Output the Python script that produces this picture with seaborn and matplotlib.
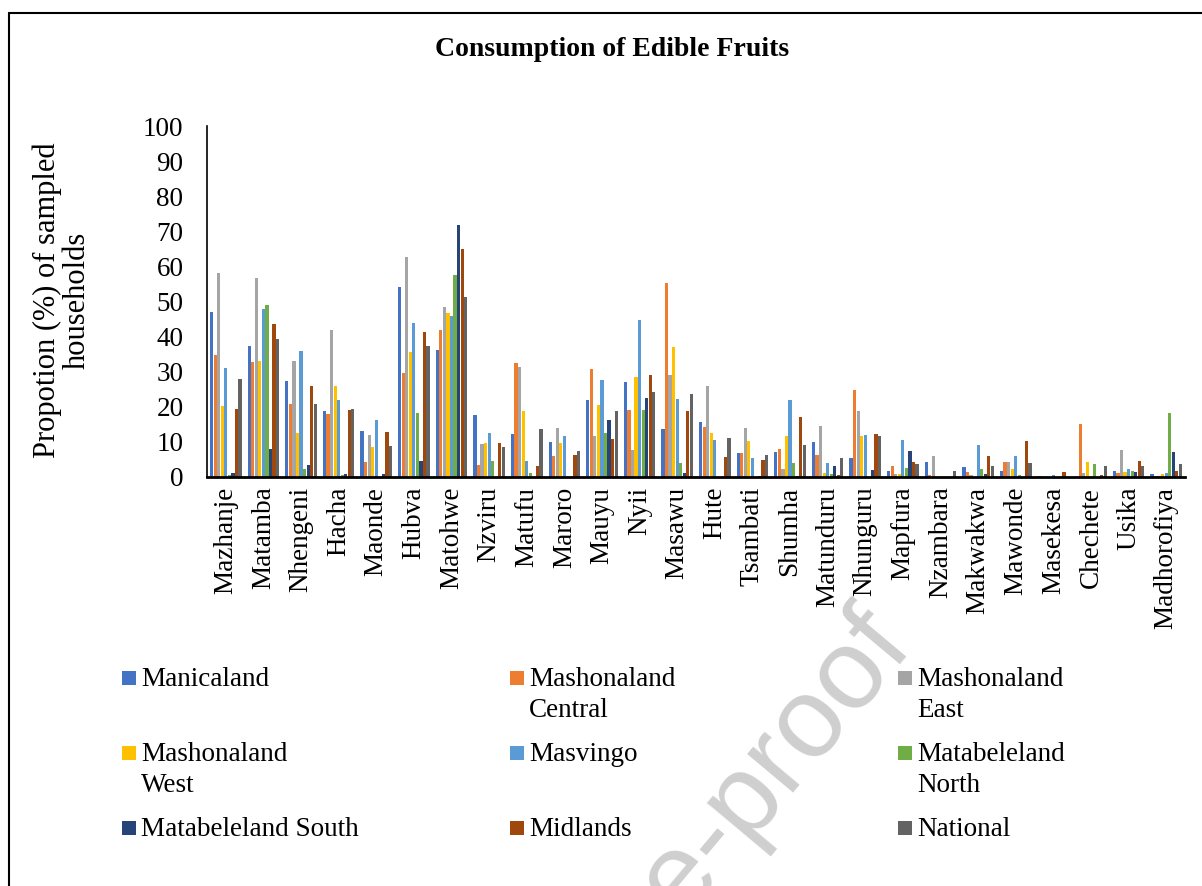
import matplotlib
matplotlib.use("Agg")
import matplotlib.pyplot as plt
from matplotlib.lines import Line2D
from matplotlib.patches import Rectangle
import pandas as pd
import seaborn as sns

sns.set_theme(style="white")
plt.rcParams['font.family'] = ['Liberation Serif', 'DejaVu Serif']
plt.rcParams['text.color'] = 'black'
plt.rcParams['xtick.color'] = 'black'
plt.rcParams['ytick.color'] = 'black'

fruits = ['Mazhanje', 'Matamba', 'Nhengeni', 'Hacha', 'Maonde', 'Hubva', 'Matohwe',
          'Nzviru', 'Matufu', 'Maroro', 'Mauyu', 'Nyii', 'Masawu', 'Hute', 'Tsambati',
          'Shumha', 'Matunduru', 'Nhunguru', 'Mapfura', 'Nzambara', 'Makwakwa',
          'Mawonde', 'Masekesa', 'Chechete', 'Usika', 'Madhorofiya']

manicaland = [46.9, 37.4, 27.3, 18.8, 13.2, 54.1, 36.1, 17.6, 12.2, 10.0, 22.0, 27.2, 13.6,
              15.6, 6.7, 7.2, 10.1, 5.5, 1.8, 4.4, 2.8, 1.6, 0.3, 0.0, 1.6, 0.8]
mash_central = [34.8, 32.7, 20.9, 17.9, 4.2, 29.6, 41.8, 3.4, 32.5, 5.9, 30.9, 19.0, 55.2,
                14.2, 6.9, 8.0, 6.2, 24.7, 3.0, 0.6, 1.3, 4.2, 0.0, 15.0, 1.1, 0.3]
mash_east = [58.2, 56.6, 33.0, 42.0, 11.9, 62.7, 48.3, 9.3, 31.2, 13.9, 11.7, 7.6, 29.0,
             26.0, 14.1, 2.3, 14.4, 18.9, 0.8, 6.0, 0.7, 4.2, 0.0, 1.1, 7.6, 0.4]
mash_west = [20.2, 33.0, 12.6, 25.8, 8.5, 35.5, 46.7, 9.6, 18.7, 9.6, 20.4, 28.5, 37.1,
             12.5, 10.2, 11.7, 1.0, 11.7, 0.8, 0.0, 0.0, 2.2, 0.0, 4.2, 1.4, 0.8]
masvingo = [31.1, 48.0, 36.0, 21.8, 16.1, 43.8, 46.0, 12.4, 4.7, 11.8, 27.5, 44.6, 22.1,
            10.5, 5.5, 22.0, 4.1, 11.9, 10.5, 0.0, 9.0, 6.0, 0.5, 0.0, 2.2, 1.2]
mat_north = [0.5, 48.9, 2.2, 0.6, 0.0, 18.1, 57.5, 4.7, 1.0, 0.0, 12.6, 19.0, 4.1,
             0.0, 0.0, 4.0, 0.8, 0.0, 2.6, 0.0, 2.2, 0.6, 0.0, 3.7, 1.7, 18.3]
mat_south = [1.0, 7.9, 3.3, 0.8, 0.8, 4.7, 71.9, 0.0, 0.0, 0.0, 16.1, 22.5, 1.0,
             0.0, 0.3, 0.3, 3.1, 1.9, 7.5, 0.0, 0.8, 0.0, 0.0, 0.0, 1.3, 7.1]
midlands = [19.3, 43.5, 25.8, 19.0, 12.8, 41.2, 64.9, 9.6, 3.1, 6.4, 10.7, 29.1, 18.8,
            5.6, 4.9, 17.0, 0.6, 12.2, 4.3, 0.0, 5.9, 10.2, 1.4, 0.7, 4.7, 1.7]
national = [28.0, 39.4, 20.9, 19.3, 8.7, 37.4, 51.4, 8.5, 13.8, 7.5, 18.9, 24.1, 23.7,
            11.2, 6.4, 9.0, 5.3, 11.7, 3.7, 1.6, 3.0, 4.0, 0.0, 3.2, 3.0, 3.8]

regions = ['Manicaland', 'Mashonaland Central', 'Mashonaland East', 'Mashonaland West',
           'Masvingo', 'Matabeleland North', 'Matabeleland South', 'Midlands', 'National']
legend_labels = ['Manicaland', 'Mashonaland\nCentral', 'Mashonaland\nEast',
                 'Mashonaland\nWest', 'Masvingo', 'Matabeleland\nNorth',
                 'Matabeleland South', 'Midlands', 'National']
colors = ['#4472C4', '#ED7D31', '#A5A5A5', '#FFC000', '#5B9BD5',
          '#70AD47', '#264478', '#9E480E', '#636363']

df = pd.DataFrame({'fruit': fruits})
for name, vals in zip(regions, [manicaland, mash_central, mash_east, mash_west, masvingo,
                                mat_north, mat_south, midlands, national]):
    df[name] = vals
long = df.melt(id_vars='fruit', var_name='region', value_name='value')

W, H = 1202, 886
fig = plt.figure(figsize=(W / 100, H / 100), dpi=100)
ax = fig.add_axes([207 / W, 1 - 477 / H, (1185 - 207) / W, (477 - 126) / H])

sns.barplot(data=long, x='fruit', y='value', hue='region', hue_order=regions,
            palette=colors, saturation=1, width=0.85, gap=0.1, linewidth=0,
            ax=ax, legend=False)

ax.set_ylim(0, 100)
ax.set_yticks(range(0, 101, 10))
ax.set_xlabel('')
ax.set_ylabel('')
ax.tick_params(axis='y', length=0, pad=17, labelsize=19.5)
ax.tick_params(axis='x', length=0, pad=7, labelsize=19.5, rotation=90)
for s in ['top', 'right']:
    ax.spines[s].set_visible(False)
ax.spines['left'].set_color('black')
ax.spines['left'].set_linewidth(1.2)
ax.spines['bottom'].set_color('black')
ax.spines['bottom'].set_linewidth(2)

fig.text(612 / W, 1 - 50 / H, 'Consumption of Edible Fruits', ha='center', va='center',
         fontsize=20, fontweight='bold')
fig.text(62 / W, 1 - 300 / H, 'Propotion (%) of sampled\nhouseholds', ha='center',
         va='center', rotation=90, fontsize=22, multialignment='center', linespacing=1.05)

# legend laid out row by row like the original
col_x = [122, 510, 898]
for i, (lab, c) in enumerate(zip(legend_labels, colors)):
    r, k = divmod(i, 3)
    x0 = col_x[k]
    yc = 678 + 75 * r
    fig.add_artist(Rectangle((x0 / W, 1 - (yc + 7) / H), 14 / W, 14 / H,
                             transform=fig.transFigure, color=c, lw=0))
    fig.text((x0 + 19) / W, 1 - (yc - 11) / H, lab, ha='left', va='top',
             fontsize=19.5, linespacing=1.33)

# frame lines
fig.add_artist(Line2D([9 / W, 9 / W], [0, 1 - 13 / H], transform=fig.transFigure,
                      color='black', lw=1.5))
fig.add_artist(Line2D([9 / W, 1], [1 - 13 / H, 1 - 13 / H], transform=fig.transFigure,
                      color='black', lw=1.5))

# watermark
fig.text(915 / W, 1 - 648 / H, 'Journal Pre-proof', fontsize=82, color='#cfcfcf',
         family='Liberation Sans', rotation=50, rotation_mode='anchor',
         ha='right', va='baseline', zorder=0)

fig.savefig('out.png', dpi=100)
